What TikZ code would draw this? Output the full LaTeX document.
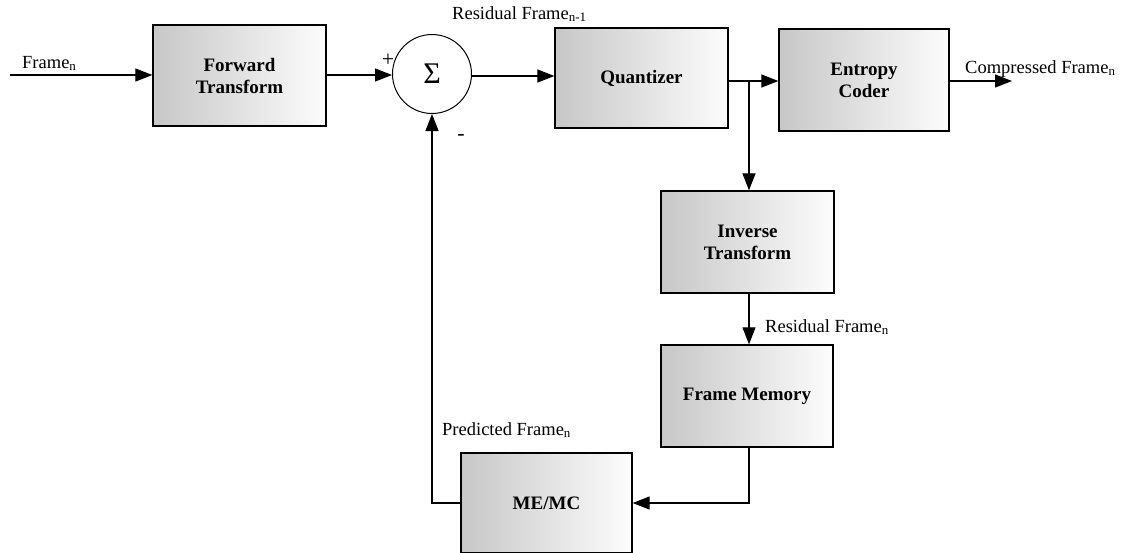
\documentclass[tikz,border=0pt]{standalone}
\usepackage{fontspec}
\setmainfont{Liberation Serif}
\usetikzlibrary{arrows.meta}
\begin{document}
\begin{tikzpicture}[x=1pt,y=-1pt,
  blockbox/.style={draw=black, line width=1.3pt, left color=black!22, middle color=black!9, right color=black!1,
    minimum width=#1, align=center, inner sep=0pt,
    font=\fontsize{19}{22}\selectfont\bfseries},
  blockbox/.default=173pt,
  sumnode/.style={draw=black, circle, line width=1pt, minimum size=79pt, inner sep=0pt,
    font=\fontsize{30}{32}\selectfont},
  sig/.style={line width=1.2pt, -{Triangle[length=17pt,width=13pt]}},
  lbl/.style={font=\fontsize{18.5}{20}\selectfont, inner sep=0pt},
  signlbl/.style={font=\fontsize{22}{24}\selectfont, inner sep=0pt}
]
\useasboundingbox (0,0) rectangle (1124,552);

% processing blocks
\node[blockbox, minimum height=101pt] (ft) at (239.5,75.5) {Forward\\Transform};
\node[sumnode] (sum) at (432,74) {Σ};
\node[blockbox, minimum height=100pt] (q) at (641.5,78) {Quantizer};
\node[blockbox=170pt, minimum height=102pt] (ec) at (864,80) {Entropy\\Coder};
\node[blockbox, minimum height=102pt] (it) at (747.5,242) {Inverse\\Transform};
\node[blockbox=172pt, minimum height=102pt] (fm) at (747,396) {Frame Memory};
\node[blockbox=171pt, minimum height=100pt] (me) at (546.5,503) {\raisebox{-4pt}{ME/MC}};

% free ends and junction
\coordinate (in) at (10,75);
\coordinate (out) at (1012,81);
\coordinate (tap) at (749,81);

% forward path
\draw[sig] (in) -- (ft.west |- in);
\draw[sig] (ft.east |- in) -- (sum.west |- in);
\draw[sig] (sum.east |- 0,76) -- (q.west |- 0,76);
\draw[sig] (q.east |- tap) -- (ec.west |- tap);
\draw[sig] (ec.east |- out) -- (out);

% reconstruction loop
\draw[sig] (tap) -- (it.north -| tap);
\draw[sig] (it.south -| tap) -- (fm.north -| tap);
\draw[sig] (fm.south -| tap) |- (me.east);
\draw[sig] (me.west) -| (sum.south);

% signal labels
\node[lbl, anchor=base west] (lin) at (22,68) {Frame\textsubscript{n}};
\node[lbl, anchor=base west] (lres1) at (452,19) {Residual Frame\textsubscript{n-1}};
\node[lbl, anchor=base west] (lout) at (965,73) {Compressed Frame\textsubscript{n}};
\node[lbl, anchor=base west] (lres) at (765,332) {Residual Frame\textsubscript{n}};
\node[lbl, anchor=base west] (lpred) at (442,435) {Predicted Frame\textsubscript{n}};
\node[signlbl] (plus) at (388,60) {+};
\node[signlbl] (minus) at (461,137) {-};
\end{tikzpicture}
\end{document}
